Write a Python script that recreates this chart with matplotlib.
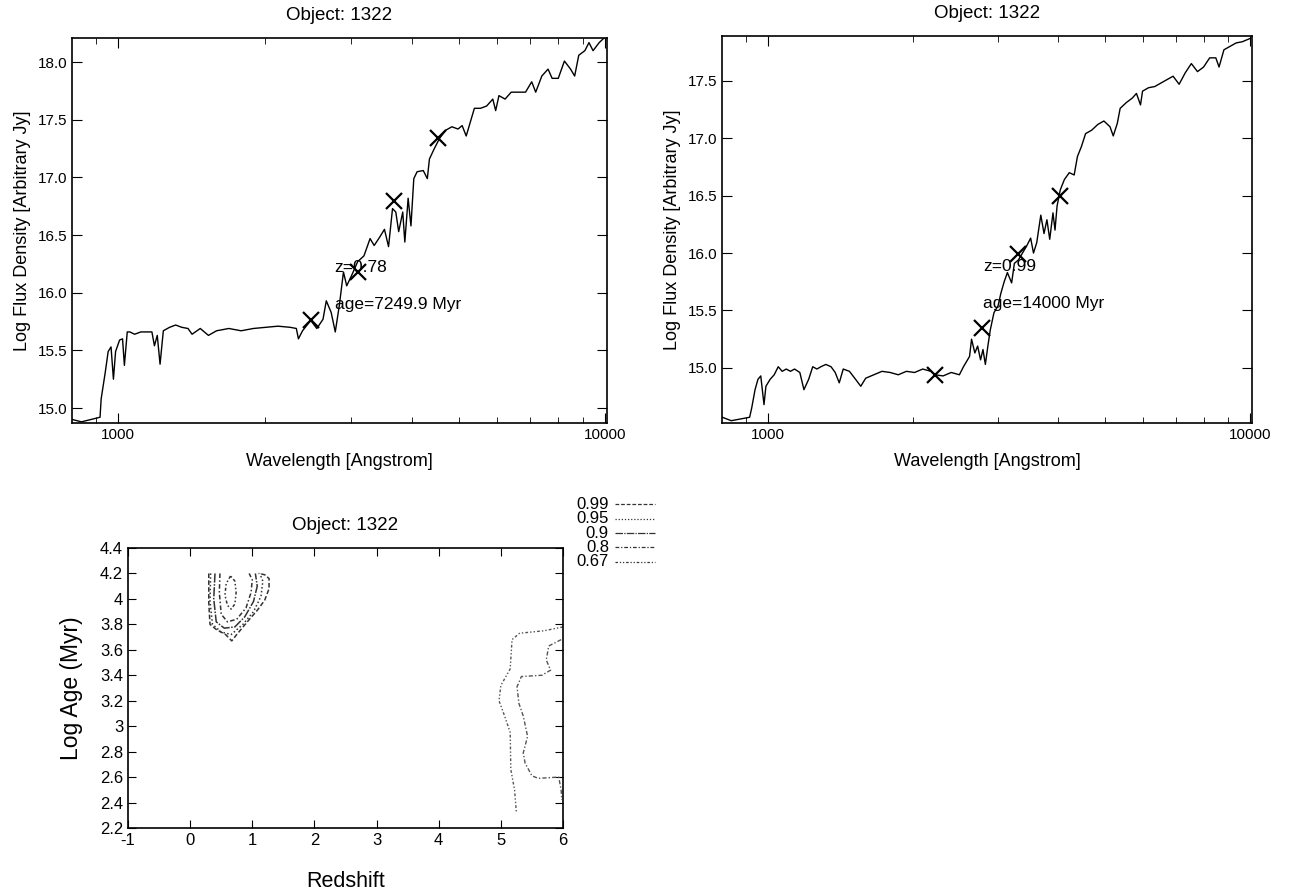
import numpy as np
import matplotlib
matplotlib.use('Agg')
import matplotlib.pyplot as plt
from matplotlib.lines import Line2D

plt.rcParams['font.family'] = ['Liberation Sans', 'DejaVu Sans']
plt.rcParams['axes.linewidth'] = 1.2

# spectrum of the first fit (z=0.78)
wave_a = [805, 840, 917, 922, 940, 953, 966, 977, 987, 1006,
          1020, 1029, 1043, 1056, 1080, 1112, 1145, 1172, 1186, 1202,
          1218, 1237, 1274, 1311, 1350, 1390, 1417, 1473, 1531, 1591,
          1686, 1787, 1894, 2007, 2127, 2254, 2320, 2343, 2389, 2483,
          2556, 2632, 2673, 2735, 2789, 2843, 2899, 2944, 3013, 3101,
          3194, 3288, 3352, 3438, 3519, 3588, 3656, 3713, 3764, 3837,
          3875, 3936, 3989, 4043, 4107, 4228, 4310, 4353, 4454, 4568,
          4702, 4841, 4983, 5081, 5180, 5281, 5384, 5543, 5706, 5874,
          5954, 6047, 6225, 6408, 6661, 6857, 7060, 7195, 7406, 7627,
          7776, 8005, 8241, 8484, 8650, 8819, 9078, 9256, 9436, 9714,
          10000]
flux_a = [14.90, 14.88, 14.92, 15.08, 15.31, 15.49, 15.53, 15.25, 15.49, 15.59,
          15.60, 15.37, 15.66, 15.66, 15.64, 15.66, 15.66, 15.66, 15.54, 15.63,
          15.38, 15.67, 15.70, 15.72, 15.70, 15.69, 15.64, 15.69, 15.63, 15.67,
          15.69, 15.67, 15.69, 15.70, 15.71, 15.70, 15.69, 15.60, 15.67, 15.76,
          15.69, 15.77, 15.93, 15.83, 15.66, 15.89, 16.18, 16.06, 16.15, 16.27,
          16.32, 16.47, 16.41, 16.48, 16.55, 16.40, 16.73, 16.70, 16.53, 16.70,
          16.44, 16.82, 16.58, 16.99, 17.05, 17.06, 16.99, 17.16, 17.25, 17.34,
          17.41, 17.44, 17.42, 17.45, 17.36, 17.48, 17.60, 17.60, 17.62, 17.68,
          17.58, 17.71, 17.68, 17.74, 17.74, 17.74, 17.83, 17.74, 17.88, 17.94,
          17.86, 17.86, 18.01, 17.94, 17.88, 18.06, 18.10, 18.17, 18.10, 18.17,
          18.22]
cross_wave_a = [2483, 3101, 3690, 4535]
cross_flux_a = [15.76, 16.18, 16.80, 17.34]

# spectrum of the second fit (z=0.99)
wave_b = [804, 839, 916, 925, 940, 953, 966, 981, 990, 1010,
          1030, 1050, 1070, 1091, 1113, 1135, 1164, 1187, 1214, 1238,
          1263, 1287, 1318, 1351, 1378, 1405, 1432, 1475, 1519, 1557,
          1594, 1657, 1723, 1791, 1862, 1936, 2013, 2093, 2176, 2218,
          2306, 2398, 2493, 2542, 2617, 2642, 2684, 2720, 2758, 2790,
          2822, 2856, 2889, 2940, 2998, 3039, 3087, 3135, 3199, 3241,
          3304, 3369, 3435, 3503, 3551, 3606, 3677, 3734, 3786, 3837,
          3897, 3935, 3974, 4035, 4115, 4212, 4312, 4379, 4466, 4553,
          4688, 4827, 4969, 5116, 5196, 5298, 5370, 5529, 5692, 5804,
          5918, 5976, 6152, 6335, 6521, 6714, 6914, 7116, 7328, 7544,
          7768, 7998, 8234, 8478, 8610, 8813, 9074, 9343, 9619, 10000]
flux_b = [14.57, 14.54, 14.57, 14.65, 14.81, 14.90, 14.93, 14.68, 14.84, 14.90,
          14.94, 15.01, 14.97, 14.99, 14.97, 14.99, 14.96, 14.81, 14.90, 15.01,
          14.99, 15.01, 15.03, 15.01, 14.96, 14.87, 14.99, 14.97, 14.90, 14.84,
          14.91, 14.94, 14.97, 14.96, 14.94, 14.97, 14.96, 14.99, 14.97, 14.94,
          14.93, 14.96, 14.94, 15.01, 15.10, 15.25, 15.13, 15.19, 15.07, 15.16,
          15.03, 15.19, 15.33, 15.48, 15.54, 15.65, 15.75, 15.83, 15.74, 15.91,
          15.94, 16.00, 16.06, 16.13, 16.00, 16.09, 16.33, 16.17, 16.29, 16.12,
          16.35, 16.20, 16.41, 16.55, 16.64, 16.70, 16.68, 16.84, 16.93, 17.04,
          17.07, 17.12, 17.15, 17.10, 17.02, 17.13, 17.26, 17.31, 17.35, 17.39,
          17.29, 17.41, 17.44, 17.45, 17.48, 17.51, 17.54, 17.47, 17.57, 17.65,
          17.58, 17.62, 17.70, 17.70, 17.62, 17.77, 17.80, 17.83, 17.84, 17.87]
cross_wave_b = [2218, 2773, 3304, 4036]
cross_flux_b = [14.94, 15.35, 15.99, 16.50]

# confidence contours in the (redshift, log age) plane
levels = ['0.99', '0.95', '0.9', '0.8', '0.67']
styles = [(0, (3, 1.5)), (0, (1, 1.5)), (0, (6, 1, 1, 1)), (0, (3, 1.5, 1, 1.5)),
          (0, (2, 1.5, 1, 1.5, 1, 1.5))]
low_z = [
    [0.30, 0.30, 0.32, 0.42, 0.57, 0.67, 0.75, 0.92, 1.08, 1.20, 1.27, 1.27, 1.20, 1.10],
    [0.33, 0.32, 0.36, 0.50, 0.66, 0.85, 1.02, 1.14, 1.17, 1.12],
    [0.40, 0.38, 0.42, 0.55, 0.72, 0.88, 1.02, 1.08, 1.05],
    [0.48, 0.47, 0.50, 0.60, 0.75, 0.90, 0.98, 1.00, 0.95],
    [0.65, 0.58, 0.56, 0.60, 0.66, 0.72, 0.74, 0.72, 0.65],
]
low_age = [
    [4.20, 3.97, 3.80, 3.76, 3.72, 3.67, 3.72, 3.82, 3.91, 3.99, 4.08, 4.16, 4.19, 4.20],
    [4.20, 3.98, 3.80, 3.74, 3.72, 3.80, 3.90, 4.02, 4.14, 4.20],
    [4.20, 4.00, 3.82, 3.77, 3.78, 3.86, 3.98, 4.10, 4.20],
    [4.20, 4.05, 3.88, 3.82, 3.84, 3.93, 4.05, 4.15, 4.20],
    [4.18, 4.12, 4.03, 3.95, 3.92, 3.96, 4.05, 4.14, 4.18],
]
high_z = [
    [6.00, 5.70, 5.30, 5.18, 5.15, 5.00, 4.97, 5.06, 5.15, 5.16, 5.22, 5.25],
    [5.97, 5.77, 5.73, 5.80, 5.66, 5.33, 5.26, 5.29, 5.36, 5.43, 5.36, 5.39,
     5.50, 5.60, 5.93, 5.97, 5.98],
]
high_age = [
    [3.78, 3.75, 3.73, 3.68, 3.45, 3.32, 3.20, 3.08, 2.95, 2.66, 2.50, 2.32],
    [3.68, 3.63, 3.52, 3.44, 3.40, 3.39, 3.31, 3.18, 3.08, 2.92, 2.79, 2.71,
     2.61, 2.59, 2.60, 2.50, 2.42],
]
high_style = [4, 3]

fig = plt.figure(figsize=(12.94, 8.96), dpi=100)
ax1 = fig.add_axes([0.0556, 0.5279, 0.4135, 0.4297])
ax2 = fig.add_axes([0.558, 0.5279, 0.4096, 0.4319])
ax3 = fig.add_axes([0.0989, 0.0759, 0.3362, 0.3125])


def spectrum_panel(ax, wave, flux, cw, cf, ylim, yticks, ztxt, agetxt, tx, ty):
    ax.plot(wave, flux, color='black', lw=1.0)
    ax.plot(cw, cf, ls='none', marker='x', ms=11, mew=1.6, color='black')
    ax.set_xscale('log')
    ax.set_xlim(803, 10080)
    ax.set_ylim(*ylim)
    ax.set_xticks([1000, 10000])
    ax.set_xticklabels(['1000', '10000'])
    ax.set_xticks([900] + list(range(2000, 10000, 1000)), minor=True)
    ax.set_xticklabels([], minor=True)
    ax.set_yticks(yticks)
    ax.set_yticklabels(['%.1f' % v for v in yticks])
    ax.tick_params(which='both', direction='in', top=True, right=True, labelsize=11)
    ax.tick_params(which='major', length=7)
    ax.tick_params(which='minor', length=4)
    ax.set_title('Object: 1322', fontsize=13.5, pad=13)
    ax.set_xlabel('Wavelength [Angstrom]', fontsize=13, labelpad=8)
    ax.set_ylabel('Log Flux Density [Arbitrary Jy]', fontsize=13, labelpad=5)
    ax.text(tx, ty[0], ztxt, fontsize=12.5, va='center', ha='left')
    ax.text(tx, ty[1], agetxt, fontsize=12.5, va='center', ha='left')


spectrum_panel(ax1, wave_a, flux_a, cross_wave_a, cross_flux_a, (14.87, 18.21),
               [15.0, 15.5, 16.0, 16.5, 17.0, 17.5, 18.0],
               'z=0.78', 'age=7249.9 Myr', 2780, (16.22, 15.90))
spectrum_panel(ax2, wave_b, flux_b, cross_wave_b, cross_flux_b, (14.52, 17.89),
               [15.0, 15.5, 16.0, 16.5, 17.0, 17.5],
               'z=0.99', 'age=14000 Myr', 2790, (15.88, 15.56))

# contour panel
for i in range(len(levels)):
    ax3.plot(low_z[i], low_age[i], color='#333333', lw=1.1, ls=styles[i])
for i in range(len(high_z)):
    ax3.plot(high_z[i], high_age[i], color='#555555', lw=1.0, ls=styles[high_style[i]])
ax3.set_xlim(-1, 6)
ax3.set_ylim(2.2, 4.4)
ax3.set_xticks(range(-1, 7))
ax3.set_xticklabels([str(v) for v in range(-1, 7)])
age_ticks = [2.2, 2.4, 2.6, 2.8, 3.0, 3.2, 3.4, 3.6, 3.8, 4.0, 4.2, 4.4]
ax3.set_yticks(age_ticks)
ax3.set_yticklabels(['%g' % v for v in age_ticks])
ax3.tick_params(direction='in', top=True, right=True, length=6, labelsize=12)
ax3.set_title('Object: 1322', fontsize=13.5, pad=13)
ax3.set_xlabel('Redshift', fontsize=15.5, labelpad=17)
ax3.set_ylabel('Log Age (Myr)', fontsize=16.5, labelpad=12)

# gnuplot style key outside the frame, labels right aligned
key_y = [0.437, 0.421, 0.405, 0.389, 0.373]
for i in range(len(levels)):
    fig.text(0.4706, key_y[i], levels[i], fontsize=12, ha='right', va='center')
    fig.add_artist(Line2D([0.4753, 0.5062], [key_y[i], key_y[i]], color='#333333',
                          lw=0.9, ls=styles[i], transform=fig.transFigure))

fig.savefig('out.png', dpi=100)
